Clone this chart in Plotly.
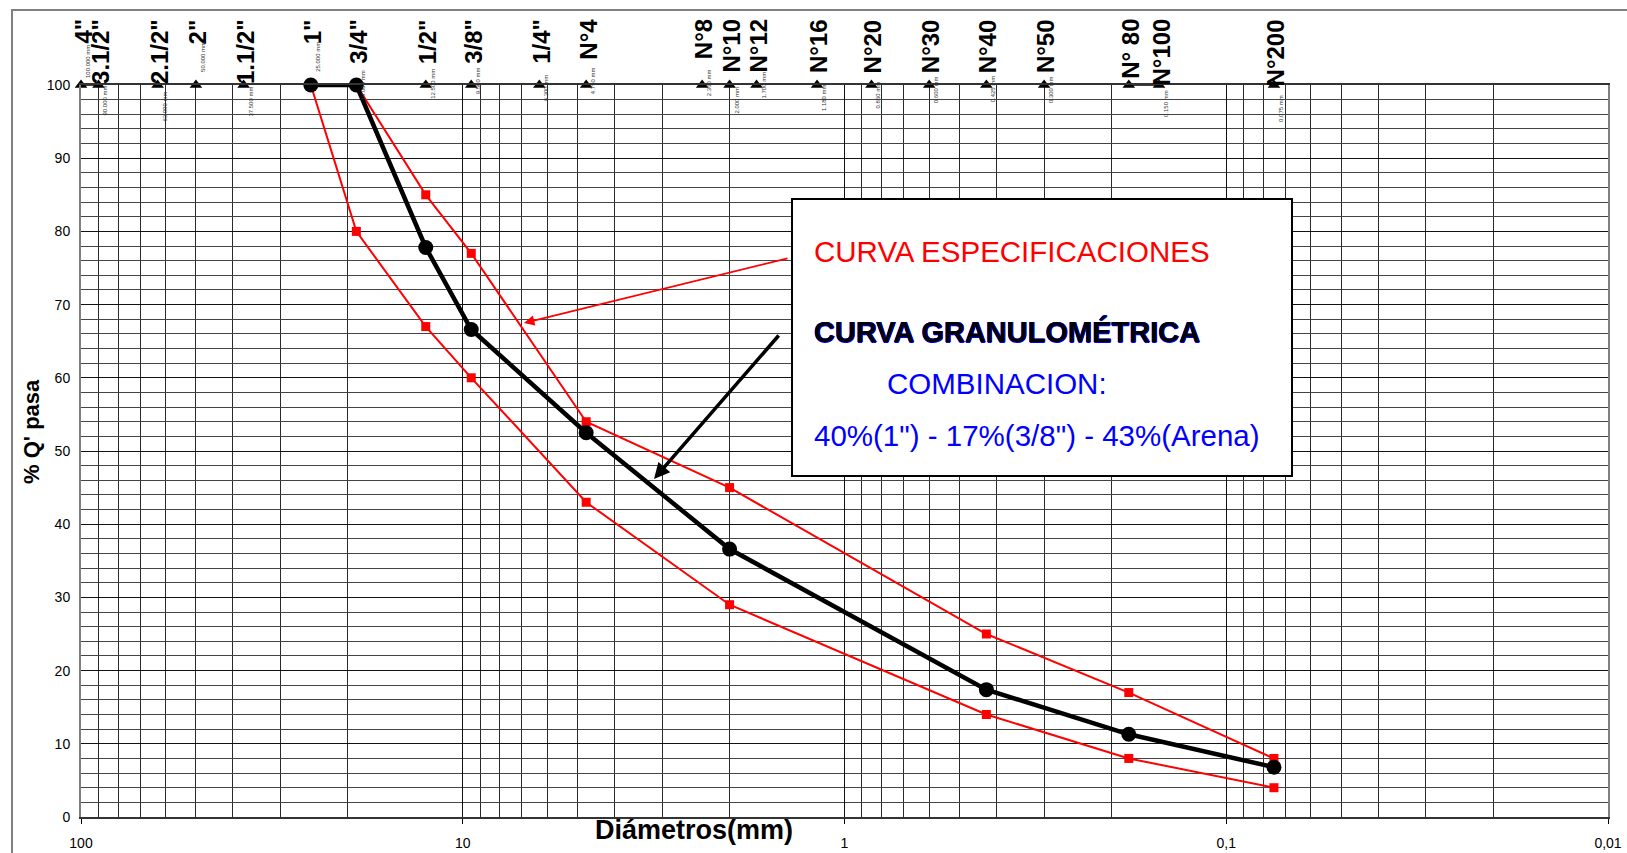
import math
import plotly.graph_objects as go

# Sieve series (opening in mm) and their names
sieve_mm = [100.0, 90.0, 63.0, 50.0, 37.5, 25.0, 19.0, 12.5, 9.5, 6.3, 4.75,
            2.36, 2.0, 1.7, 1.18, 0.85, 0.6, 0.425, 0.3, 0.18, 0.15, 0.075]
sieve_names = ['4"', '3.1/2"', '2.1/2"', '2"', '1.1/2"', '1"', '3/4"', '1/2"', '3/8"',
               '1/4"', 'N°4', 'N°8', 'N°10', 'N°12', 'N°16', 'N°20', 'N°30', 'N°40',
               'N°50', 'N° 80', 'N°100', 'N°200']
sieve_pass = [100] * len(sieve_mm)
mm_text = [f"{v:.3f} mm" for v in sieve_mm]
mm_text[19] = ""          # N°80 opening is not annotated
linked_pairs = [(0, 1), (19, 20)]

# Grading curve of the 40/17/43 combination
curve_mm = [25.0, 19.0, 12.5, 9.5, 4.75, 2.0, 0.425, 0.18, 0.075]
curve_pass = [100, 100, 77.8, 66.6, 52.5, 36.6, 17.4, 11.3, 6.8]

# Specification envelope
spec_up_mm = [19.0, 12.5, 9.5, 4.75, 2.0, 0.425, 0.18, 0.075]
spec_up_pass = [100, 85, 77, 54, 45, 25, 17, 8]
spec_lo_mm = [25.0, 19.0, 12.5, 9.5, 4.75, 2.0, 0.425, 0.18, 0.075]
spec_lo_pass = [100, 80, 67, 60, 43, 29, 14, 8, 4]

x_tickvals = [100, 10, 1, 0.1, 0.01]
x_ticktext = ["100", "10", "1", "0,1", "0,01"]

# ---- layout geometry (pixels) ----
W, H = 1627, 853
L, R, T, B = 81, 1608, 85, 817
def px(xp):
    return (xp - L) / (R - L)
def py(yp):
    return (B - yp) / (B - T)

FONT = "Arial, Liberation Sans, sans-serif"
RED = "#FF0000"
BLUE = "#0000FF"

fig = go.Figure()

# Sieve markers along the 100 % line
fig.add_trace(go.Scatter(
    x=sieve_mm, y=sieve_pass, mode="markers",
    marker=dict(symbol="triangle-up", size=11, color="black"),
    cliponaxis=False, hoverinfo="skip"))
link_x, link_y = [], []
for a, b in linked_pairs:
    link_x += [sieve_mm[a], sieve_mm[b], None]
    link_y += [sieve_pass[a], sieve_pass[b], None]
fig.add_trace(go.Scatter(x=link_x, y=link_y, mode="lines",
                         line=dict(color="black", width=1.5),
                         cliponaxis=False, hoverinfo="skip"))

# Specification limits
for xs, ys in ((spec_up_mm, spec_up_pass), (spec_lo_mm, spec_lo_pass)):
    fig.add_trace(go.Scatter(
        x=xs, y=ys, mode="lines+markers",
        line=dict(color=RED, width=2),
        marker=dict(symbol="square", size=9, color=RED),
        cliponaxis=False))

# Grading curve
fig.add_trace(go.Scatter(
    x=curve_mm, y=curve_pass, mode="lines+markers",
    line=dict(color="black", width=4.5),
    marker=dict(symbol="circle", size=15, color="black"),
    cliponaxis=False))

annotations = []
# Sieve names (rotated) above the chart
for v, name in zip(sieve_mm, sieve_names):
    annotations.append(dict(
        x=math.log10(v), y=py(17), xref="x", yref="paper",
        text=name, textangle=-90, showarrow=False,
        xanchor="center", yanchor="top", xshift=2,
        font=dict(family=FONT, size=24, color="black", weight="bold")))

# Small opening labels beside each marker
mm_label_y = [62, 100, 107, 57, 102, 57, 85, 84, 81, 88, 81, 83, 100, 85, 98,
              95, 90, 89, 90, 90, 104, 108]
for v, t, yc in zip(sieve_mm, mm_text, mm_label_y):
    if not t:
        continue
    annotations.append(dict(
        x=math.log10(v), y=py(yc), xref="x", yref="paper",
        text=t, textangle=-90, showarrow=False,
        xanchor="center", yanchor="middle", xshift=7,
        font=dict(family=FONT, size=6, color="#333333")))

# Legend box texts
BOX_FONT = 29.5
annotations += [
    dict(x=px(812), y=py(252), xref="paper", yref="paper", showarrow=False,
         text="CURVA ESPECIFICACIONES", xanchor="left", yanchor="middle",
         font=dict(family=FONT, size=BOX_FONT, color=RED)),
    dict(x=px(812), y=py(331), xref="paper", yref="paper", showarrow=False,
         text="CURVA GRANULOMÉTRICA", xanchor="left", yanchor="middle",
         font=dict(family=FONT, size=BOX_FONT - 0.5, color="black", weight="bold",
                   shadow="0.5px 0 0 #0000FF, -0.5px 0 0 #0000FF, 0 0.5px 0 #0000FF, 0 -0.5px 0 #0000FF")),
    dict(x=px(885), y=py(383), xref="paper", yref="paper", showarrow=False,
         text="COMBINACION:", xanchor="left", yanchor="middle",
         font=dict(family=FONT, size=BOX_FONT, color=BLUE)),
    dict(x=px(812), y=py(435), xref="paper", yref="paper", showarrow=False,
         text='40%(1") - 17%(3/8") - 43%(Arena)', xanchor="left", yanchor="middle",
         font=dict(family=FONT, size=BOX_FONT, color=BLUE)),
]

# Pointer arrows
annotations += [
    dict(x=px(524), y=py(323), xref="paper", yref="paper", text="",
         showarrow=True, ax=789 - 524, ay=258 - 323,
         arrowhead=2, arrowsize=1.3, arrowwidth=1.6, arrowcolor=RED),
    dict(x=px(654), y=py(479), xref="paper", yref="paper", text="",
         showarrow=True, ax=780 - 654, ay=334 - 479,
         arrowhead=2, arrowsize=0.9, arrowwidth=3.5, arrowcolor="black"),
]

# Axis titles
annotations += [
    dict(x=px(31), y=py(431), xref="paper", yref="paper", showarrow=False,
         text="% Q' pasa", textangle=-90, xanchor="center", yanchor="middle",
         font=dict(family=FONT, size=22, color="black", weight="bold")),
    dict(x=px(694), y=py(830), xref="paper", yref="paper", showarrow=False,
         text="Diámetros(mm)", xanchor="center", yanchor="middle",
         font=dict(family=FONT, size=27, color="black", weight="bold")),
]

shapes = [
    # legend box
    dict(type="rect", xref="paper", yref="paper",
         x0=px(792), x1=px(1292), y0=py(476), y1=py(199),
         fillcolor="white", line=dict(color="black", width=2), layer="above"),
    # outer frame
    dict(type="rect", xref="paper", yref="paper",
         x0=px(12), x1=px(1660), y0=py(880), y1=py(10),
         line=dict(color="#808080", width=2), layer="below"),
]

fig.update_layout(
    width=W, height=H,
    margin=dict(l=L, r=W - R, t=T, b=H - B, pad=0, autoexpand=False),
    paper_bgcolor="white", plot_bgcolor="white",
    showlegend=False,
    font=dict(family=FONT, color="black"),
    annotations=annotations, shapes=shapes,
    xaxis=dict(
        type="log", range=[2, -2], automargin=False,
        tickvals=x_tickvals, ticktext=x_ticktext,
        tickfont=dict(size=14, family=FONT),
        ticks="outside", ticklen=5, tickcolor="black",
        ticklabelstandoff=7,
        showgrid=True, gridcolor="#111111", gridwidth=1,
        minor=dict(dtick="D1", showgrid=True, gridcolor="#2a2a2a", gridwidth=1, ticks=""),
        showline=True, linecolor="#333333", linewidth=1.5, mirror=True,
        zeroline=False),
    yaxis=dict(
        range=[0, 100], dtick=10, automargin=False,
        tickfont=dict(size=14, family=FONT),
        ticks="", ticklabelstandoff=6,
        showgrid=True, gridcolor="#111111", gridwidth=1,
        minor=dict(dtick=2, showgrid=True, gridcolor="#444444", gridwidth=1),
        showline=True, linecolor="#808080", linewidth=2, mirror=True,
        zeroline=False),
)

fig.write_html("out.html")
